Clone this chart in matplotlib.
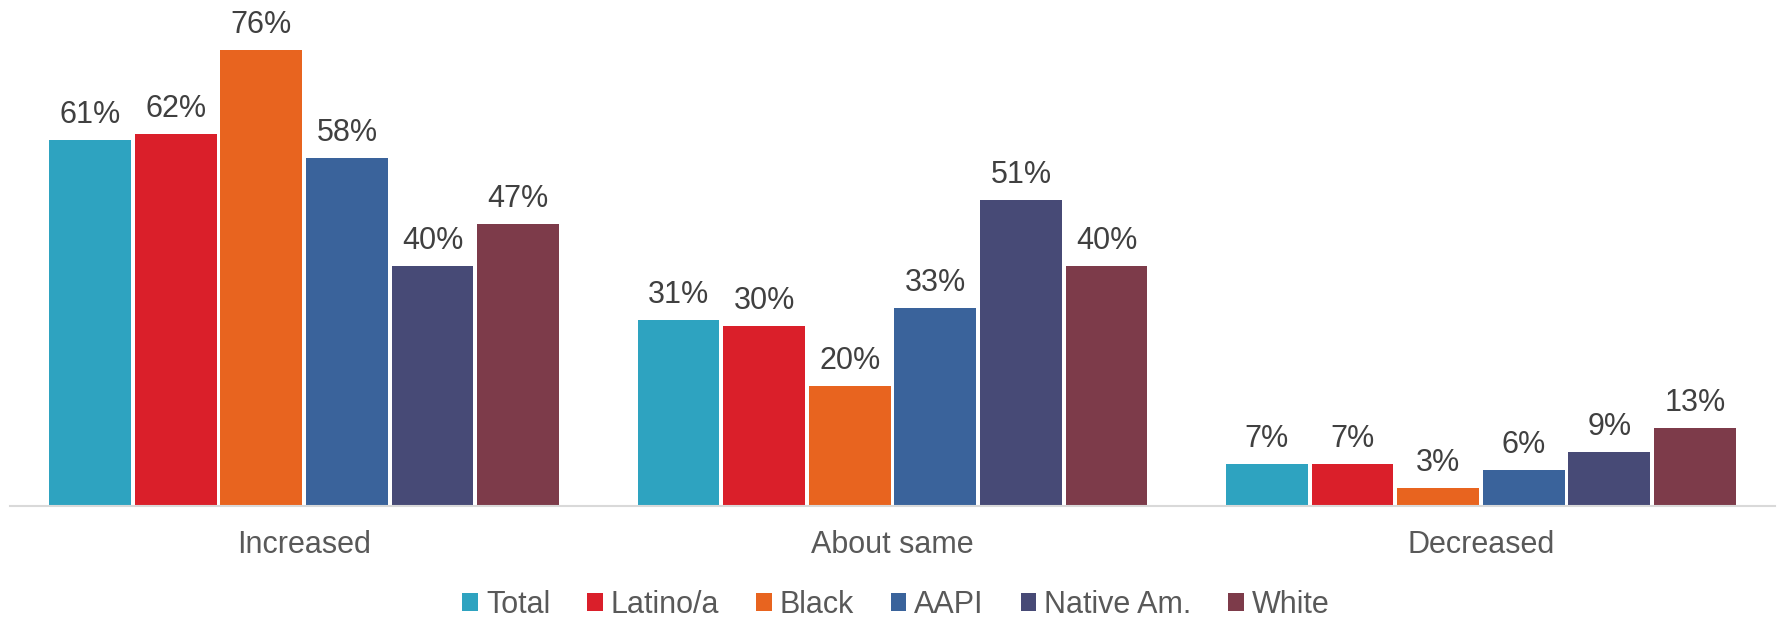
import matplotlib.pyplot as plt
import numpy as np

plt.rcParams['font.family'] = ['Liberation Sans', 'DejaVu Sans']

categories = ['Increased', 'About same', 'Decreased']
groups = ['Total', 'Latino/a', 'Black', 'AAPI', 'Native Am.', 'White']
values = {
  'Total':      [61, 31, 7],
  'Latino/a':   [62, 30, 7],
  'Black':      [76, 20, 3],
  'AAPI':       [58, 33, 6],
  'Native Am.': [40, 51, 9],
  'White':      [47, 40, 13],
}
colors = ['#2EA3C0', '#DA1F2A', '#E8641F', '#3A639B', '#474A76', '#7D3B4A']

fig = plt.figure(figsize=(17.79, 6.18), dpi=100)
ax = fig.add_axes([10/1779, 112/618, 1765/1779, 480/618])

x = np.arange(len(categories))
n = len(groups)
group_w = 0.873
w = group_w / n

for i, g in enumerate(groups):
  pos = x - group_w/2 + w*(i + 0.5)
  bars = ax.bar(pos, values[g], width=w*0.955, color=colors[i], linewidth=0, label=g)
  for b, v in zip(bars, values[g]):
    ax.text(b.get_x() + b.get_width()/2, v + 2.8, f'{v}%', ha='center', va='baseline',
            fontsize=22, color='#404040')

ax.set_xlim(-0.5, 2.5)
ax.set_ylim(0, 80)
ax.set_yticks([])
ax.set_xticks(x)
ax.set_xticklabels(categories, fontsize=22, color='#595959')
ax.tick_params(axis='x', length=0, pad=17)
for s in ['top', 'right', 'left']:
  ax.spines[s].set_visible(False)
ax.spines['bottom'].set_color('#D9D9D9')
ax.spines['bottom'].set_linewidth(1.5)

leg = fig.legend(loc='center', bbox_to_anchor=(896/1779, 1 - 605/618), ncol=n, frameon=False,
                 fontsize=22, handlelength=0.52, handleheight=0.52, handletextpad=0.26,
                 columnspacing=1.2, labelcolor='#595959', borderpad=0, borderaxespad=0)
for h in leg.legend_handles:
  h.set_edgecolor('none')

fig.savefig('out.png', dpi=100)
